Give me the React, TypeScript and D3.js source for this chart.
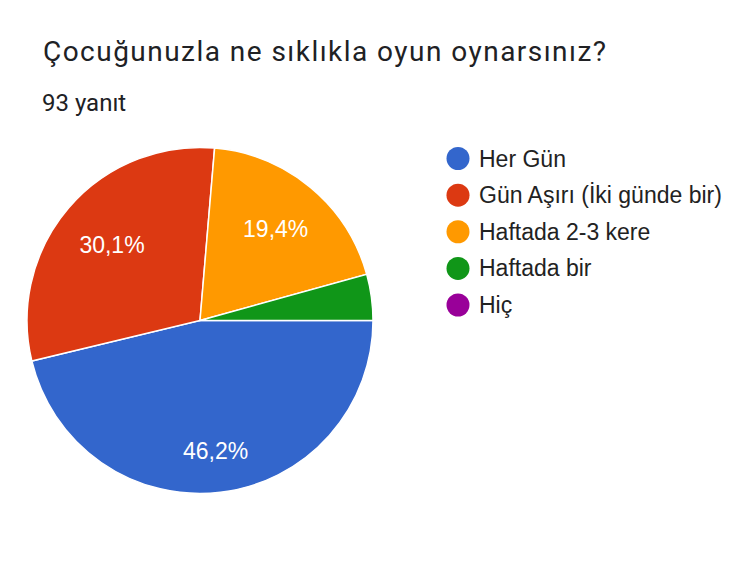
import React, { useEffect, useRef } from 'react';
import * as d3 from 'd3';

const title = 'Çocuğunuzla ne sıklıkla oyun oynarsınız?';
const subtitle = '93 yanıt';
const categories = ['Her Gün', 'Gün Aşırı (İki günde bir)', 'Haftada 2-3 kere', 'Haftada bir', 'Hiç'];
const counts = [43, 28, 18, 4, 0];
const colors = ['#3366cc', '#dc3912', '#ff9900', '#109618', '#990099'];

const W = 753;
const H = 563;

const App: React.FC = () => {
  const svgRef = useRef<SVGSVGElement | null>(null);

  useEffect(() => {
    const svg = d3.select(svgRef.current);
    svg.selectAll('*').remove();

    svg.append('rect').attr('width', W).attr('height', H).attr('fill', '#fff');

    // title is set in a wide sans in the original, stretch Roboto to the same run
    svg
      .append('text')
      .attr('x', 43)
      .attr('y', 61)
      .attr('font-family', 'Roboto, "Noto Sans", sans-serif')
      .attr('font-size', 28)
      .attr('fill', '#202124')
      .attr('textLength', 563)
      .attr('lengthAdjust', 'spacing')
      .text(title);

    svg
      .append('text')
      .attr('x', 42)
      .attr('y', 111)
      .attr('font-family', 'Roboto, "Noto Sans", sans-serif')
      .attr('font-size', 24)
      .attr('fill', '#202124')
      .text(subtitle);

    const cx = 200;
    const cy = 320.5;
    const radius = 173;
    const total = d3.sum(counts);

    const pie = d3
      .pie<number>()
      .sort(null)
      .startAngle(Math.PI / 2)
      .endAngle(Math.PI / 2 + Math.PI * 2)
      .value(d => d);
    const arcs = pie(counts);
    const arc = d3.arc<d3.PieArcDatum<number>>().innerRadius(0).outerRadius(radius);

    const g = svg.append('g').attr('transform', `translate(${cx},${cy})`);
    g.selectAll('path.slice')
      .data(arcs.filter(a => a.value > 0))
      .join('path')
      .attr('class', 'slice')
      .attr('d', arc)
      .attr('fill', d => colors[d.index])
      .attr('stroke', '#fff')
      .attr('stroke-width', 1.5);

    // percentage labels: pushed outward until the far corner of the text box reaches 0.85 R
    const fmt = (v: number) => (Math.round((v / total) * 1000) / 10).toFixed(1).replace('.', ',') + '%';
    arcs
      .filter(a => a.value / total > 0.1)
      .forEach(a => {
        const t = g
          .append('text')
          .attr('font-family', 'Arial, "Liberation Sans", sans-serif')
          .attr('font-size', 23)
          .attr('fill', '#fff')
          .attr('text-anchor', 'middle')
          .attr('dominant-baseline', 'central')
          .text(fmt(a.value));
        const bb = (t.node() as SVGTextElement).getBBox();
        const hw = bb.width / 2;
        const hh = 8;
        const mid = (a.startAngle + a.endAngle) / 2;
        const ux = Math.sin(mid);
        const uy = -Math.cos(mid);
        const limit = radius * 0.85;
        let d = 0;
        for (let s = 0; s < radius; s += 0.5) {
          const px = ux * s;
          const py = uy * s;
          const far = Math.max(
            Math.hypot(px - hw, py - hh),
            Math.hypot(px + hw, py - hh),
            Math.hypot(px - hw, py + hh),
            Math.hypot(px + hw, py + hh)
          );
          if (far > limit) break;
          d = s;
        }
        t.attr('x', ux * d).attr('y', uy * d);
      });

    const legendY = d3
      .scalePoint<string>()
      .domain(categories)
      .range([158.5, 305]);

    const items = svg
      .append('g')
      .selectAll('g.item')
      .data(categories)
      .join('g')
      .attr('class', 'item')
      .attr('transform', d => `translate(458,${legendY(d)})`);
    items
      .append('circle')
      .attr('r', 11.5)
      .attr('fill', (d, i) => colors[i]);
    items
      .append('text')
      .attr('x', 21)
      .attr('dy', '0.35em')
      .attr('font-family', 'Arial, "Liberation Sans", sans-serif')
      .attr('font-size', 23)
      .attr('fill', '#222')
      .text(d => d);
  }, []);

  return <svg ref={svgRef} width={W} height={H} style={{ display: 'block', margin: -8 }} />;
};

export default App;
